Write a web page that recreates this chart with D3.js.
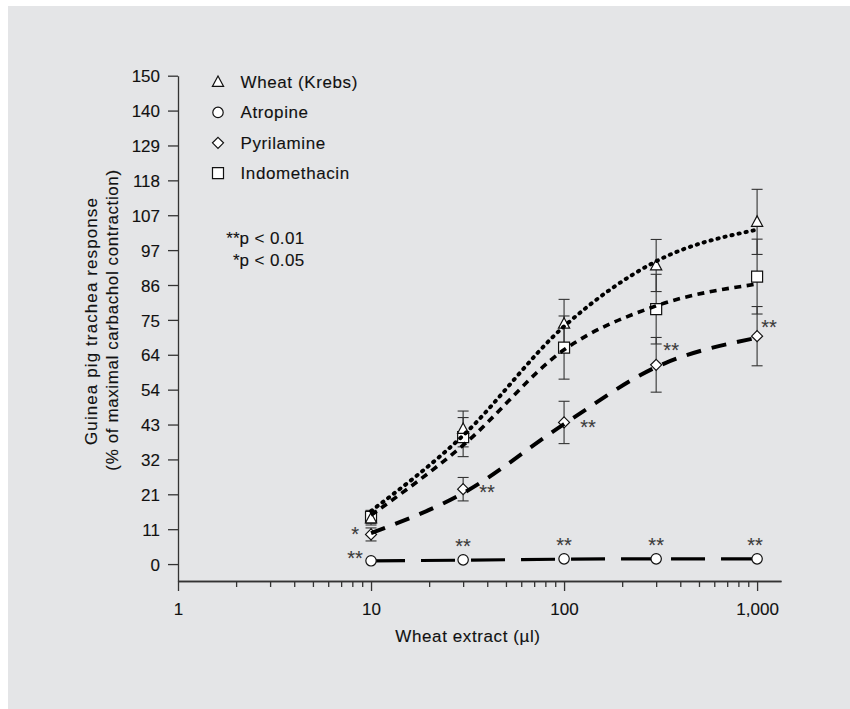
<!DOCTYPE html>
<html>
<head>
<meta charset="utf-8">
<script src="https://cdn.jsdelivr.net/npm/d3@7"></script>
<style>
  body { margin: 0; background: #fff; }
  text { font-family: "Liberation Sans", Arial, sans-serif; fill: #111; stroke: #111; stroke-width: 0.12px; }
</style>
</head>
<body>
<div id="chart"></div>
<script>
const W = 850;
const H = 709;

// doses (µl) and mean responses
const doses = [10, 30, 100, 300, 1000];
const wheat = [14, 41.5, 73.8, 91.7, 105.1];
const wheatErr = [2, 5.5, 7.5, 8, 10];
const atropine = [1, 1.3, 1.6, 1.6, 1.6];
const pyrilamine = [9.1, 23, 43.5, 61.2, 70];
const pyrilamineErr = [2, 3.6, 6.5, 8.4, 9.1];
const indomethacin = [14.5, 39, 66.5, 78.3, 88.3];
const indomethacinErr = [2, 6, 9.7, 10.7, 11.5];

// fitted curves, read at the same doses
const wheatFit = [16.3, 39.5, 73, 93, 102.7];
const indomethacinFit = [15, 36.5, 65.8, 79.3, 86];
const pyrilamineFit = [9.5, 21.8, 43, 60.5, 69.5];
const atropineFit = [1, 1.2, 1.5, 1.6, 1.6];

const yTickLabels = ['0', '11', '21', '32', '43', '54', '64', '75', '86', '97', '107', '118', '129', '140', '150'];
const xTickValues = [1, 10, 100, 1000];
const xTickLabels = ['1', '10', '100', '1,000'];
const legendNames = ['Wheat (Krebs)', 'Atropine', 'Pyrilamine', 'Indomethacin'];

const svg = d3.select('#chart')
  .append('svg')
  .attr('width', W)
  .attr('height', H);

svg.append('rect')
  .attr('x', 8).attr('y', 6)
  .attr('width', W - 8).attr('height', H - 6)
  .attr('fill', '#e4e5e7');

const x = d3.scaleLog().domain([1, 1330]).range([178, 781]);
const y = d3.scaleLinear().domain([-5.2, 150]).range([581, 75.7]);

// axes
const yAxis = d3.axisLeft(y)
  .tickValues(yTickLabels.map((d, i) => i * 150 / (yTickLabels.length - 1)))
  .tickFormat((d, i) => yTickLabels[i])
  .tickSize(10)
  .tickSizeOuter(0)
  .tickPadding(8);

const gy = svg.append('g').attr('transform', 'translate(178,0)').call(yAxis);

const minor = [];
for (let k = 0; k < 3; k++) {
  for (let m = 2; m < 10; m++) minor.push(m * Math.pow(10, k));
}

const gxMinor = svg.append('g').attr('transform', 'translate(0,581)')
  .call(d3.axisBottom(x).tickValues(minor).tickFormat('').tickSize(6).tickSizeOuter(0));

const gx = svg.append('g').attr('transform', 'translate(0,581)')
  .call(d3.axisBottom(x)
    .tickValues(xTickValues)
    .tickFormat((d, i) => xTickLabels[i])
    .tickSize(10)
    .tickSizeOuter(0)
    .tickPadding(12));

[gy, gx, gxMinor].forEach(g => {
  g.selectAll('path, line').attr('stroke', '#333').attr('stroke-width', 1.3);
  g.selectAll('text').attr('font-size', 17).attr('fill', '#111')
    .style('font-family', '"Liberation Sans", Arial, sans-serif');
});
gy.selectAll('.tick text').attr('dy', '0.36em');

svg.append('text')
  .attr('x', 468).attr('y', 642)
  .attr('text-anchor', 'middle')
  .attr('font-size', 17)
  .attr('letter-spacing', 0.6)
  .text('Wheat extract (µl)');

svg.append('text')
  .attr('transform', 'translate(97,321) rotate(-90)')
  .attr('text-anchor', 'middle')
  .attr('font-size', 17)
  .attr('letter-spacing', 1.1)
  .text('Guinea pig trachea response');

svg.append('text')
  .attr('transform', 'translate(118,320) rotate(-90)')
  .attr('text-anchor', 'middle')
  .attr('font-size', 17)
  .attr('letter-spacing', 0.6)
  .text('(% of maximal carbachol contraction)');

// marker shapes
const shapes = {
  triangle: 'M0,-6L5.6,4.4L-5.6,4.4Z',
  square: 'M-5.5,-5.5H5.5V5.5H-5.5Z',
  diamond: 'M0,-5.5L5.5,0L0,5.5L-5.5,0Z'
};

// error bars
const errSeries = [
  { v: wheat, e: wheatErr },
  { v: indomethacin, e: indomethacinErr },
  { v: pyrilamine, e: pyrilamineErr }
];
const errG = svg.append('g').attr('stroke', '#333').attr('stroke-width', 1.1);
errSeries.forEach(s => {
  doses.forEach((d, i) => {
    const cx = x(d);
    const y1 = y(s.v[i] + s.e[i]);
    const y2 = y(s.v[i] - s.e[i]);
    errG.append('line').attr('x1', cx).attr('x2', cx).attr('y1', y1).attr('y2', y2);
    errG.append('line').attr('x1', cx - 5.5).attr('x2', cx + 5.5).attr('y1', y1).attr('y2', y1);
    errG.append('line').attr('x1', cx - 5.5).attr('x2', cx + 5.5).attr('y1', y2).attr('y2', y2);
  });
});

function drawMarkers(values, shape) {
  svg.append('g').selectAll('path')
    .data(values)
    .enter()
    .append('path')
    .attr('d', shapes[shape])
    .attr('transform', (d, i) => `translate(${x(doses[i])},${y(d)})`)
    .attr('fill', '#fff')
    .attr('stroke', '#111')
    .attr('stroke-width', 1.2);
}

drawMarkers(indomethacin, 'square');
drawMarkers(wheat, 'triangle');
drawMarkers(pyrilamine, 'diamond');

// fitted curves
const line = d3.line()
  .x((d, i) => x(doses[i]))
  .y(d => y(d))
  .curve(d3.curveMonotoneX);

const curves = [
  { v: atropineFit, dash: '34,16', w: 3.2, cap: 'butt' },
  { v: pyrilamineFit, dash: '15,11', w: 4, cap: 'butt' },
  { v: indomethacinFit, dash: '7,5.5', w: 3.6, cap: 'butt' },
  { v: wheatFit, dash: '1.2,6', w: 4, cap: 'round' }
];
curves.forEach(c => {
  svg.append('path')
    .datum(c.v)
    .attr('d', line)
    .attr('fill', 'none')
    .attr('stroke', '#000')
    .attr('stroke-width', c.w)
    .attr('stroke-linecap', c.cap)
    .attr('stroke-dasharray', c.dash);
});

svg.append('g').selectAll('circle')
  .data(atropine)
  .enter()
  .append('circle')
  .attr('cx', (d, i) => x(doses[i]))
  .attr('cy', d => y(d))
  .attr('r', 5.2)
  .attr('fill', '#fff')
  .attr('stroke', '#111')
  .attr('stroke-width', 1.2);

// significance marks
const starMarks = [
  { s: atropine, i: 0, t: '**', dx: -16, dy: -7 },
  { s: atropine, i: 1, t: '**', dx: 0, dy: -18 },
  { s: atropine, i: 2, t: '**', dx: 0, dy: -18 },
  { s: atropine, i: 3, t: '**', dx: 0, dy: -18 },
  { s: atropine, i: 4, t: '**', dx: -2, dy: -18 },
  { s: pyrilamine, i: 0, t: '*', dx: -16, dy: -5 },
  { s: pyrilamine, i: 1, t: '**', dx: 24, dy: -2 },
  { s: pyrilamine, i: 2, t: '**', dx: 24, dy: 0 },
  { s: pyrilamine, i: 3, t: '**', dx: 15, dy: -19 },
  { s: pyrilamine, i: 4, t: '**', dx: 12, dy: -14 }
];
svg.append('g').selectAll('text')
  .data(starMarks)
  .enter()
  .append('text')
  .attr('x', d => x(doses[d.i]) + d.dx)
  .attr('y', d => y(d.s[d.i]) + d.dy + 11.5)
  .attr('text-anchor', 'middle')
  .attr('font-size', 20)
  .style('fill', '#3a3a3a')
  .style('stroke', '#3a3a3a')
  .text(d => d.t);

// legend
const legendShapes = ['triangle', 'circle', 'diamond', 'square'];
const legend = svg.append('g').selectAll('g')
  .data(legendNames)
  .enter()
  .append('g')
  .attr('transform', (d, i) => `translate(218,${82 + i * 30.4})`);

legend.each(function (d, i) {
  const g = d3.select(this);
  if (legendShapes[i] === 'circle') {
    g.append('circle').attr('r', 5.2);
  } else {
    g.append('path').attr('d', shapes[legendShapes[i]]);
  }
  g.selectAll('circle, path').attr('fill', '#fff').attr('stroke', '#111').attr('stroke-width', 1.2);
  g.append('text')
    .attr('x', 22.5)
    .attr('y', 6)
    .attr('font-size', 17)
    .attr('letter-spacing', 0.6)
    .text(d);
});

// p-value note
const notes = [['**', 'p < 0.01'], ['*', 'p < 0.05']];
notes.forEach((n, i) => {
  svg.append('text')
    .attr('x', 239.5)
    .attr('y', 244 + i * 22)
    .attr('font-size', 17)
    .attr('text-anchor', 'end')
    .text(n[0]);
  svg.append('text')
    .attr('x', 239.5)
    .attr('y', 244 + i * 22)
    .attr('font-size', 17)
    .attr('letter-spacing', 0.4)
    .text(n[1]);
});
</script>
</body>
</html>
